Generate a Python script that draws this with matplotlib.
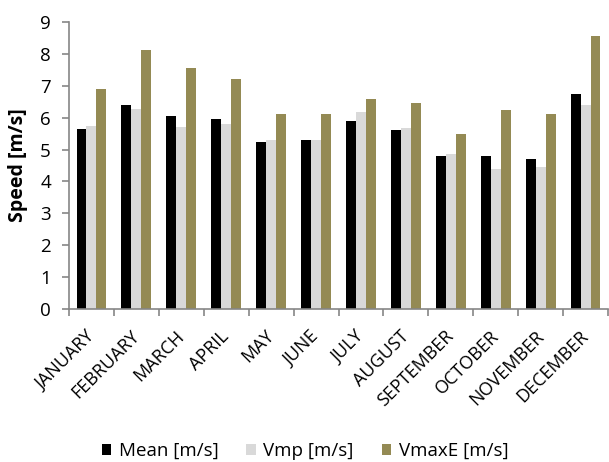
import numpy as np
import matplotlib.pyplot as plt
import matplotlib.transforms as mtransforms

plt.rcParams['font.family'] = ['Open Sans', 'DejaVu Sans']

months = ["JANUARY", "FEBRUARY", "MARCH", "APRIL", "MAY", "JUNE",
          "JULY", "AUGUST", "SEPTEMBER", "OCTOBER", "NOVEMBER", "DECEMBER"]
mean = [5.64, 6.41, 6.04, 5.95, 5.24, 5.29, 5.91, 5.60, 4.81, 4.79, 4.69, 6.75]
vmp = [5.74, 6.27, 5.70, 5.79, 5.29, 5.29, 6.19, 5.67, 4.87, 4.40, 4.44, 6.39]
vmaxe = [6.90, 8.13, 7.56, 7.21, 6.11, 6.11, 6.59, 6.45, 5.50, 6.23, 6.10, 8.57]

series = [("Mean [m/s]", mean, "#000000"),
          ("Vmp [m/s]", vmp, "#d9d9d9"),
          ("VmaxE [m/s]", vmaxe, "#948a54")]

fig = plt.figure(figsize=(6.09, 4.62), dpi=100)
ax = fig.add_axes([69/609, 1-309/462, 539/609, 287/462])

x = np.arange(len(months))
w = 0.222
for k, (name, vals, col) in enumerate(series):
    ax.bar(x + (k-1)*w, vals, w, color=col, label=name, edgecolor='none')

ax.set_xlim(-0.5, len(months)-0.5)
ax.set_ylim(0, 9)
ax.set_yticks(range(10))
ax.set_xticks(x)
ax.set_xticklabels(months, rotation=45, ha='right', va='top', rotation_mode='anchor')
ax.set_xticks(np.arange(len(months)+1)-0.5, minor=True)
ax.tick_params(axis='x', which='major', length=0, pad=13, labelsize=13)
ax.tick_params(axis='x', which='minor', length=5, color='#868686', width=1.2)
ax.tick_params(axis='y', length=5, color='#868686', width=1.2, labelsize=13.5, pad=8)

# nudge the month labels a little to the left
shift = mtransforms.ScaledTranslation(-6/100, 0, fig.dpi_scale_trans)
for lab in ax.get_xticklabels():
    lab.set_transform(lab.get_transform() + shift)

for s in ['top', 'right']:
    ax.spines[s].set_visible(False)
for s in ['left', 'bottom']:
    ax.spines[s].set_color('#868686')
    ax.spines[s].set_linewidth(1.2)

ax.set_ylabel("Speed [m/s]", fontweight='bold', fontsize=14)
ax.yaxis.set_label_coords(-0.076, 0.5)

fig.legend(loc='center', bbox_to_anchor=(305/609, 1-451/462), ncol=3, frameon=False,
           fontsize=13.5, handlelength=0.5, handleheight=0.5, handletextpad=0.4,
           columnspacing=1.5, borderpad=0)

fig.savefig("out.png", dpi=100)
